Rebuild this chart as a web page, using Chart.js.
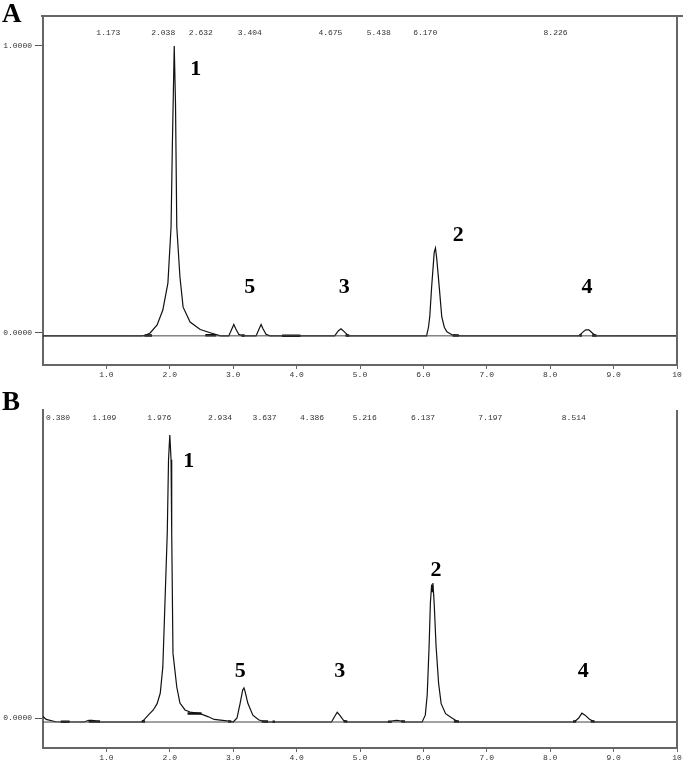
<!DOCTYPE html>
<html><head><meta charset="utf-8">
<script src="https://cdn.jsdelivr.net/npm/chart.js@4/dist/chart.umd.min.js"></script>
<style>
body{margin:0;background:#fff;width:685px;height:767px;overflow:hidden;position:relative}
canvas{position:absolute;left:0}
#cA{top:0}
#cB{top:385px}
</style></head><body>
<canvas id="cA" width="685" height="385"></canvas>
<canvas id="cB" width="685" height="382"></canvas>
<script>
// ---------- data ----------
const xTickValues = [1,2,3,4,5,6,7,8,9,10];
const xTickLabels = ['1.0','2.0','3.0','4.0','5.0','6.0','7.0','8.0','9.0','10'];

const yTickValuesA = [0, 1];
const yTickLabelsA = ['0.0000', '1.0000'];
const yTickValuesB = [0];
const yTickLabelsB = ['0.0000'];

const rtLabelsA = ['1.173','2.038','2.632','3.404','4.675','5.438','6.170','8.226'];
const rtLabelsB = ['0.380','1.109','1.976','2.934','3.637','4.386','5.216','6.137','7.197','8.514'];

const peakNamesA = ['1','5','3','2','4'];
const peakNameTimeA = [2.41, 3.26, 4.75, 6.55, 8.58];
const peakNameValA  = [0.92, 0.16, 0.16, 0.34, 0.16];
const peakNamesB = ['1','5','3','2','4'];
const peakNameTimeB = [2.30, 3.11, 4.68, 6.20, 8.52];
const peakNameValB  = [0.895, 0.164, 0.164, 0.516, 0.164];

const baseTime = [0, 10];
const baseValA = [-0.01, -0.01];
const baseValB = [-0.014, -0.014];

// integration markers (thick baseline segments)
const markStartA = [1.60, 2.56, 3.13, 3.77, 4.77, 6.46, 8.46, 8.66];
const markEndA   = [1.72, 2.73, 3.18, 4.06, 4.83, 6.56, 8.50, 8.73];
const markValA   = [-0.009, -0.008, -0.009, -0.01, -0.009, -0.009, -0.009, -0.009];
const markStartB = [0.28, 0.72, 1.56, 2.28, 2.92, 3.45, 3.62, 4.74, 5.44, 5.65, 6.48, 8.36, 8.64];
const markEndB   = [0.42, 0.90, 1.61, 2.50, 2.97, 3.55, 3.66, 4.80, 5.50, 5.71, 6.56, 8.41, 8.70];
const markValB   = [-0.013, -0.012, -0.012, 0.016, -0.012, -0.012, -0.013, -0.012, -0.013, -0.012, -0.012, -0.012, -0.012];

const timeA = [0,1.55,1.62,1.69,1.80,1.89,1.97,2.02,2.04,2.07,2.09,2.11,2.16,2.21,2.32,2.48,2.65,2.80,
  2.93,2.98,3.01,3.04,3.09,3.15,
  3.36,3.41,3.44,3.47,3.52,3.58,
  4.60,4.66,4.70,4.75,4.82,
  6.05,6.08,6.10,6.13,6.15,6.17,6.19,6.21,6.25,6.29,6.33,6.37,6.45,6.58,
  8.45,8.52,8.56,8.61,8.66,8.72,10];
const signalA = [-0.01,-0.01,-0.008,0.0,0.028,0.08,0.174,0.37,0.65,1.0,0.80,0.37,0.195,0.09,0.038,0.012,0.0,-0.01,
  -0.01,0.015,0.03,0.015,-0.005,-0.01,
  -0.01,0.015,0.03,0.015,-0.005,-0.01,
  -0.01,0.008,0.015,0.005,-0.01,
  -0.01,0.02,0.056,0.16,0.22,0.28,0.296,0.26,0.16,0.056,0.02,0.004,-0.006,-0.01,
  -0.01,0.004,0.011,0.011,0.001,-0.01,-0.01];

const timeB = [0,0.05,0.2,0.65,0.72,0.78,0.88,1.55,1.60,1.66,1.74,1.80,1.85,1.89,1.92,1.96,1.98,2.00,2.02,2.03,2.05,2.11,2.16,2.24,2.32,2.48,2.60,2.70,2.90,
  3.00,3.06,3.11,3.15,3.17,3.19,3.23,3.31,3.40,3.50,
  4.55,4.60,4.64,4.68,4.74,4.80,
  5.45,5.52,5.58,5.65,5.72,
  5.98,6.03,6.06,6.09,6.11,6.13,6.14,6.15,6.17,6.20,6.24,6.28,6.35,6.45,6.55,
  8.38,8.45,8.50,8.55,8.62,8.70,10];
const signalB = [0.005,-0.005,-0.013,-0.014,-0.008,-0.008,-0.014,-0.014,-0.005,0.01,0.028,0.05,0.087,0.178,0.376,0.645,0.90,0.986,0.90,0.645,0.226,0.108,0.052,0.028,0.021,0.015,0.005,-0.005,-0.01,
  -0.014,0.0,0.052,0.098,0.105,0.09,0.052,0.01,-0.006,-0.014,
  -0.014,0.005,0.02,0.01,-0.008,-0.014,
  -0.014,-0.01,-0.008,-0.011,-0.014,
  -0.014,0.01,0.08,0.25,0.40,0.465,0.44,0.47,0.40,0.25,0.12,0.05,0.015,0.0,-0.014,
  -0.014,0.0,0.017,0.01,-0.004,-0.014,-0.014];

// ---------- helpers ----------
const pts = (t, v) => t.map((tt, i) => ({x: tt, y: v[i]}));
const segs = (s, e, v) => {
  const out = [];
  s.forEach((st, i) => { out.push({x: st, y: v[i]}, {x: e[i], y: v[i]}, {x: e[i], y: null}); });
  return out;
};
const lblFont = {family: 'Liberation Mono', size: 8};

const panelPlugin = {
  id: 'panel',
  afterDraw(chart, args, o) {
    const {ctx, chartArea: a, scales: {x, y}} = chart;
    ctx.save();
    ctx.strokeStyle = '#666';
    ctx.lineWidth = 2;
    if (o.topLine) {
      ctx.beginPath(); ctx.moveTo(a.left - 2, a.top); ctx.lineTo(a.right + 6, a.top); ctx.stroke();
    }
    ctx.beginPath(); ctx.moveTo(a.right, a.top); ctx.lineTo(a.right, a.bottom + 1); ctx.stroke();
    // retention-time labels
    ctx.fillStyle = '#333';
    ctx.font = '8px "Liberation Mono"';
    ctx.textAlign = 'right';
    ctx.textBaseline = 'middle';
    o.rt.forEach(s => ctx.fillText(s, x.getPixelForValue(parseFloat(s)) + 3, a.top + o.rtOffset));
    // peak numbers
    ctx.fillStyle = '#000';
    ctx.font = 'bold 22px "Liberation Serif"';
    ctx.textAlign = 'center';
    o.names.forEach((n, i) => ctx.fillText(n, x.getPixelForValue(o.nt[i]), y.getPixelForValue(o.nv[i])));
    // panel letter
    ctx.font = 'bold 27px "Liberation Serif"';
    ctx.textAlign = 'left';
    ctx.textBaseline = 'alphabetic';
    ctx.fillText(o.letter, 2, o.letterY);
    ctx.restore();
  }
};

function makeChart(id, t, v, bv, ms, me, mv, yMin, yMax, yVals, yLabels, padTop, xH, extra) {
  return new Chart(document.getElementById(id), {
    type: 'line',
    data: {
      datasets: [
        {data: pts(baseTime, bv), borderColor: '#444', borderWidth: 1, pointRadius: 0},
        {data: pts(t, v), borderColor: '#111', borderWidth: 1.2, pointRadius: 0, tension: 0},
        {data: segs(ms, me, mv), borderColor: '#111', borderWidth: 2.5, pointRadius: 0, spanGaps: false}
      ]
    },
    options: {
      responsive: false, animation: false, devicePixelRatio: 1,
      layout: {padding: {top: padTop, right: 8, left: 0, bottom: 0}},
      plugins: {legend: {display: false}, tooltip: {enabled: false}, panel: extra},
      scales: {
        x: {
          type: 'linear', min: 0, max: 10,
          afterBuildTicks: s => { s.ticks = xTickValues.map(val => ({value: val})); },
          afterFit: s => { s.height = xH; },
          ticks: {autoSkip: false, maxRotation: 0, padding: 1, font: lblFont, color: '#333',
            callback: val => xTickLabels[xTickValues.indexOf(val)]},
          grid: {drawOnChartArea: false, tickLength: 4, color: '#666'},
          border: {color: '#666', width: 2}
        },
        y: {
          type: 'linear', min: yMin, max: yMax,
          afterBuildTicks: s => { s.ticks = yVals.map(val => ({value: val})); },
          afterFit: s => { s.width = 43; },
          ticks: {padding: 3, font: lblFont, color: '#333',
            callback: val => yLabels[yVals.indexOf(val)]},
          grid: {drawOnChartArea: false, tickLength: 8, color: '#555'},
          border: {color: '#666', width: 2}
        }
      }
    },
    plugins: [panelPlugin]
  });
}

makeChart('cA', timeA, signalA, baseValA, markStartA, markEndA, markValA, -0.1115, 1.1045, yTickValuesA, yTickLabelsA, 16, 20,
  {topLine: true, rt: rtLabelsA, rtOffset: 17, names: peakNamesA, nt: peakNameTimeA, nv: peakNameValA, letter: 'A', letterY: 22});
makeChart('cB', timeB, signalB, baseValB, markStartB, markEndB, markValB, -0.1045, 1.073, yTickValuesB, yTickLabelsB, 25, 19,
  {topLine: false, rt: rtLabelsB, rtOffset: 8, names: peakNamesB, nt: peakNameTimeB, nv: peakNameValB, letter: 'B', letterY: 25});
</script>
</body></html>
